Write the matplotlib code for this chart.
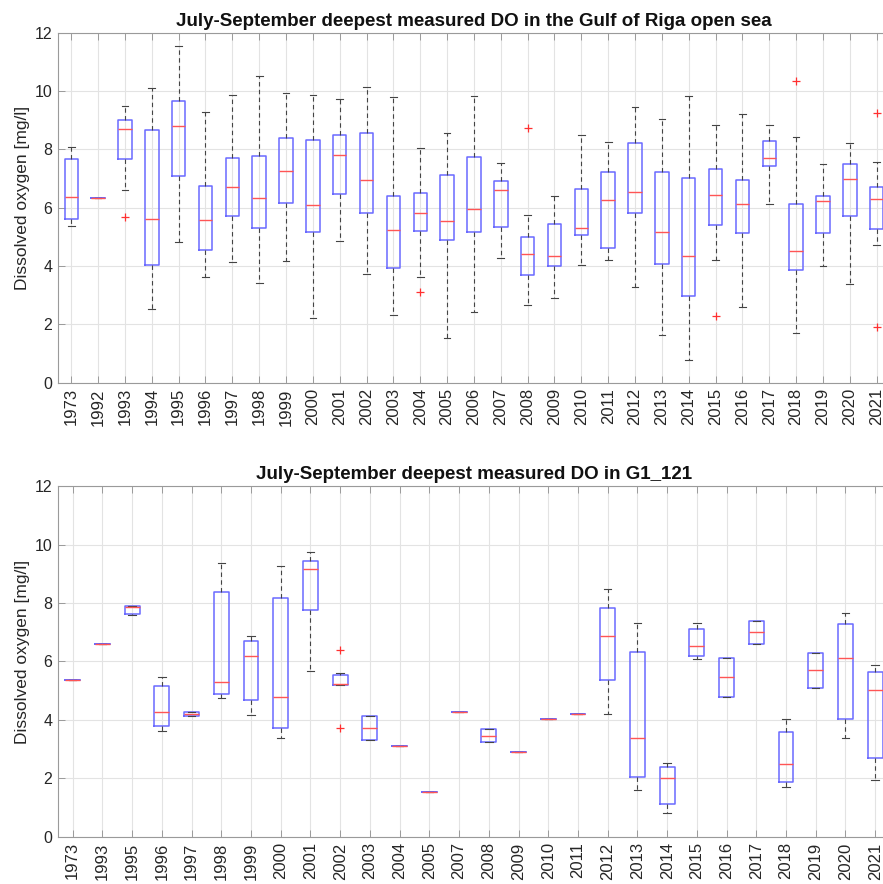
import matplotlib
matplotlib.use("Agg")
import matplotlib.pyplot as plt

plt.rcParams['font.family'] = ['Liberation Sans', 'DejaVu Sans']

# ---- Gulf of Riga open sea: July-September deepest measured DO ----
years_a = ['1973', '1992'] + [str(y) for y in range(1993, 2022)]
lo_a  = [5.36, 6.32, 6.61, 2.53, 4.83, 3.61, 4.13, 3.42, 4.18, 2.21, 4.86, 3.71, 2.31, 3.61, 1.54, 2.41,
         4.26, 2.65, 2.89, 4.03, 4.22, 3.28, 1.62, 0.79, 4.19, 2.61, 6.11, 1.71, 4.01, 3.37, 4.71]
q1_a  = [5.61, 6.32, 7.68, 4.02, 7.09, 4.55, 5.70, 5.29, 6.16, 5.18, 6.47, 5.83, 3.93, 5.21, 4.88, 5.17,
         5.35, 3.69, 4.00, 5.06, 4.61, 5.82, 4.08, 2.97, 5.42, 5.12, 7.43, 3.86, 5.12, 5.70, 5.27]
med_a = [6.35, 6.32, 8.70, 5.61, 8.80, 5.58, 6.72, 6.32, 7.26, 6.09, 7.81, 6.95, 5.22, 5.83, 5.55, 5.94,
         6.61, 4.40, 4.33, 5.29, 6.25, 6.53, 5.18, 4.34, 6.45, 6.11, 7.71, 4.51, 6.22, 6.99, 6.29]
q3_a  = [7.66, 6.32, 9.01, 8.65, 9.67, 6.74, 7.70, 7.77, 8.40, 8.31, 8.49, 8.55, 6.40, 6.49, 7.12, 7.75,
         6.90, 4.98, 5.44, 6.65, 7.21, 8.23, 7.21, 7.02, 7.31, 6.96, 8.30, 6.13, 6.41, 7.50, 6.72]
hi_a  = [8.09, 6.32, 9.50, 10.09, 11.55, 9.27, 9.87, 10.51, 9.94, 9.87, 9.73, 10.14, 9.78, 8.05, 8.55, 9.83,
         7.54, 5.75, 6.40, 8.50, 8.25, 9.46, 9.03, 9.82, 8.82, 9.21, 8.82, 8.43, 7.51, 8.22, 7.58]
out_a = {'1993': [5.67], '2004': [3.10], '2008': [8.74], '2015': [2.27], '2018': [10.33], '2021': [9.23, 1.92]}

# ---- Station G1_121 ----
years_b = ['1973', '1993', '1995', '1996', '1997', '1998', '1999', '2000', '2001', '2002', '2003', '2004',
           '2005', '2007', '2008', '2009', '2010', '2011', '2012', '2013', '2014', '2015', '2016', '2017',
           '2018', '2019', '2020', '2021']
lo_b  = [5.37, 6.61, 7.60, 3.61, 4.12, 4.74, 4.17, 3.39, 5.66, 5.19, 3.31, 3.09, 1.53, 4.26, 3.23, 2.89,
         4.04, 4.20, 4.21, 1.61, 0.80, 6.07, 4.79, 6.61, 1.71, 5.10, 3.39, 1.93]
q1_b  = [5.37, 6.61, 7.63, 3.78, 4.12, 4.90, 4.67, 3.73, 7.76, 5.19, 3.31, 3.09, 1.53, 4.26, 3.23, 2.89,
         4.04, 4.20, 5.37, 2.05, 1.11, 6.18, 4.79, 6.61, 1.88, 5.10, 4.04, 2.69]
med_b = [5.37, 6.61, 7.86, 4.26, 4.19, 5.31, 6.19, 4.77, 9.16, 5.22, 3.73, 3.09, 1.53, 4.26, 3.46, 2.89,
         4.04, 4.20, 6.87, 3.38, 2.01, 6.52, 5.46, 7.01, 2.48, 5.71, 6.12, 5.01]
q3_b  = [5.37, 6.61, 7.88, 5.16, 4.27, 8.36, 6.69, 8.16, 9.42, 5.55, 4.14, 3.09, 1.53, 4.26, 3.70, 2.89,
         4.04, 4.20, 7.84, 6.32, 2.39, 7.10, 6.11, 7.40, 3.60, 6.30, 7.27, 5.65]
hi_b  = [5.37, 6.61, 7.90, 5.46, 4.27, 9.38, 6.87, 9.28, 9.73, 5.59, 4.14, 3.09, 1.53, 4.26, 3.70, 2.89,
         4.04, 4.20, 8.49, 7.31, 2.51, 7.31, 6.11, 7.40, 4.02, 6.30, 7.64, 5.87]
out_b = {'2002': [6.40, 3.71]}

TXT = '#262626'
AXC = '#9a9a9a'


def make_stats(labels, lo, q1, med, q3, hi, outliers):
    stats = []
    for i, lab in enumerate(labels):
        stats.append(dict(label=lab, whislo=lo[i], q1=q1[i], med=med[i], q3=q3[i],
                          whishi=hi[i], fliers=outliers.get(lab, [])))
    return stats


def draw_panel(ax, labels, lo, q1, med, q3, hi, outliers, title):
    stats = make_stats(labels, lo, q1, med, q3, hi, outliers)
    ax.bxp(stats, positions=range(1, len(labels) + 1), widths=0.5, capwidths=0.25,
           boxprops=dict(color='#6a6aff', linewidth=1.1),
           medianprops=dict(color='#ff5555', linewidth=1.0),
           whiskerprops=dict(color='#444444', linewidth=0.8, linestyle=(0, (4, 3))),
           capprops=dict(color='#444444', linewidth=0.8),
           flierprops=dict(marker='+', markeredgecolor='#ff3030', markersize=6,
                           markeredgewidth=0.9, linestyle='none'))
    ax.set_xlim(0.5, len(labels) + 0.5)
    ax.set_ylim(0, 12)
    ax.set_yticks(range(0, 13, 2))
    ax.set_xticks(range(1, len(labels) + 1))
    ax.set_xticklabels(labels, rotation=90, fontsize=12, color=TXT)
    ax.tick_params(axis='y', labelsize=11.5, labelcolor=TXT)
    ax.tick_params(direction='in', top=True, right=True, length=5, width=0.7, color=AXC, pad=4)
    ax.grid(True, color='#e3e3e3', linewidth=0.8)
    ax.set_axisbelow(True)
    for s in ax.spines.values():
        s.set_color(AXC)
        s.set_linewidth(0.8)
    ax.set_ylabel('Dissolved oxygen [mg/l]', fontsize=12.5, color=TXT)
    ax.yaxis.set_label_coords(-0.034, 0.528)
    ax.set_title(title, fontsize=13.5, fontweight='bold', color='#111111', pad=5)


fig = plt.figure(figsize=(8.83, 8.84), dpi=100)
ax1 = fig.add_axes([0.0655, 0.5671, 0.9425, 0.3959])
ax2 = fig.add_axes([0.0655, 0.0535, 0.9425, 0.3966])

draw_panel(ax1, years_a, lo_a, q1_a, med_a, q3_a, hi_a, out_a,
           'July-September deepest measured DO in the Gulf of Riga open sea')
draw_panel(ax2, years_b, lo_b, q1_b, med_b, q3_b, hi_b, out_b,
           'July-September deepest measured DO in G1_121')

fig.savefig('out.png', dpi=100, facecolor='white')
